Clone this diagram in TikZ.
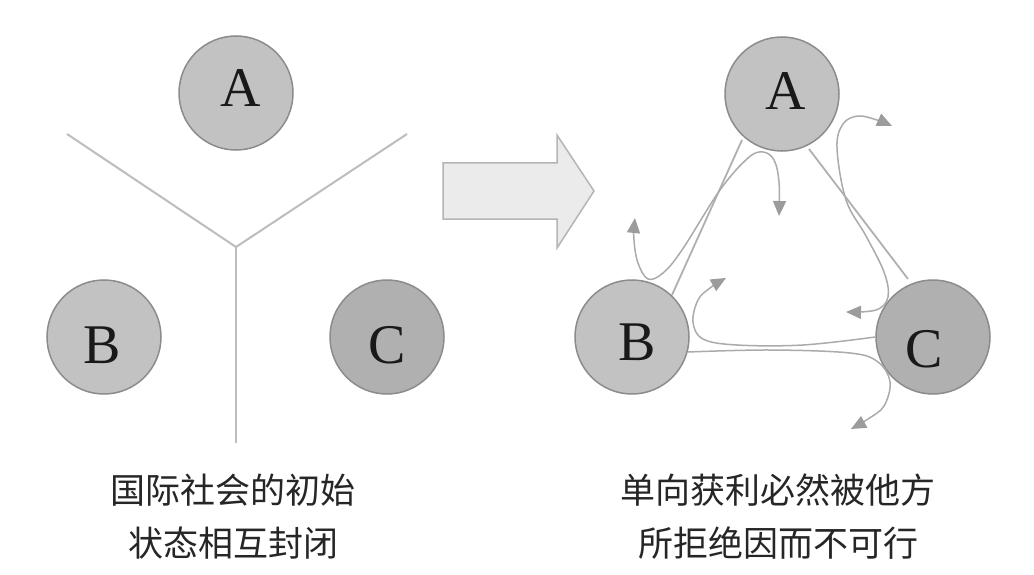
\documentclass[tikz,border=0pt]{standalone}
\usepackage{fontspec}
\setmainfont{Liberation Serif}
\newfontfamily\cjk{Noto Sans CJK SC}
\usetikzlibrary{arrows.meta}
\definecolor{ballfill}{HTML}{C2C2C2}
\definecolor{balldark}{HTML}{B0B0B0}
\definecolor{ballline}{HTML}{8C8C8C}
\definecolor{sepline}{HTML}{BDBDBD}
\definecolor{linkline}{HTML}{B0B0B0}
\definecolor{flowline}{HTML}{ABABAB}
\definecolor{tipfill}{HTML}{9C9C9C}
\definecolor{bigfill}{HTML}{EBEBEB}
\definecolor{bigline}{HTML}{B5B5B5}
\tikzset{
  ball/.style={circle, minimum size=114pt, inner sep=0pt, draw=ballline, line width=1.5pt, fill=ballfill},
  darkball/.style={ball, fill=balldark},
  letter/.style={font=\fontsize{56}{60}\selectfont, text=black!90, inner sep=0pt},
  caption/.style={font=\cjk\fontsize{35}{53}\selectfont, align=center, text=black!85, inner sep=0pt},
  separator/.style={draw=sepline, line width=2pt},
  link/.style={draw=linkline, line width=1.8pt},
  flow/.style={draw=flowline, line width=1.5pt},
  tip/.tip={Triangle[length=15pt, width=13pt, fill=tipfill, color=tipfill]},
  bigarrow/.style={fill=bigfill, draw=bigline, line width=1.5pt, line join=miter}
}
\begin{document}
\begin{tikzpicture}[x=1pt, y=-1pt]
\useasboundingbox (0,0) rectangle (1034,575);
\fill[white] (0,0) rectangle (1034,575);

% ---------- left panel ----------
\coordinate (ctr) at (236,247);
\coordinate (sepL) at (67,134);
\coordinate (sepR) at (407,134);
\coordinate (sepD) at (236,443);
\draw[separator] (sepL) -- (ctr) -- (sepR);
\draw[separator] (ctr) -- (sepD);

\node[ball] (lA) at (236,93) {};
\node[ball] (lB) at (104,337) {};
\node[darkball] (lC) at (387,337) {};
\node[letter] (lAt) at (241,88) {A};
\node[letter] (lBt) at (102,345) {B};
\node[letter] (lCt) at (387,345) {C};

% ---------- big arrow ----------
\draw[bigarrow] (443,163) -- (557,163) -- (557,135) -- (594,191) -- (557,248) -- (557,219) -- (443,219) -- cycle;

% ---------- right panel ----------
\node[ball] (rA) at (782,94) {};
\node[ball] (rB) at (632,337) {};
\node[darkball] (rC) at (933,337) {};

% straight links
\coordinate (abA) at (742,140);
\coordinate (abB) at (672,295);
\coordinate (acA) at (809,149);
\coordinate (acC) at (908,279);
\draw[link] (abA) -- (abB);
\draw[link] (acA) -- (acC);

% flow curves
\coordinate (f1s) at (635,218);
\coordinate (f1e) at (779,216);
\draw[flow, tip-tip] plot[smooth, tension=0.6] coordinates {(f1s) (634,240) (638,263) (648,279) (663,273) (682,250) (720,190) (748,158) (763,152) (774,160) (779,182) (f1e)};

\coordinate (f2s) at (892,126);
\coordinate (f2e) at (846,312);
\draw[flow, tip-tip] plot[smooth, tension=0.6] coordinates {(f2s) (877,120) (858,116) (843,124) (837,148) (846,200) (866,236) (884,272) (888,297) (876,310) (f2e)};

\coordinate (f3e) at (726,278);
\draw[flow, -tip] plot[smooth, tension=0.6] coordinates {(rC.west) (803,345) (737,345) (703,339) (693,322) (698,300) (710,288) (f3e)};

\coordinate (f4e) at (851,429);
\draw[flow, -tip] plot[smooth, tension=0.6] coordinates {(688,352) (770,350) (850,353) (878,362) (890,382) (884,406) (868,419) (f4e)};

\node[letter] (rAt) at (786,91) {A};
\node[letter] (rBt) at (637,342) {B};
\node[letter] (rCt) at (924,349) {C};

% ---------- captions ----------
\node[caption] (capL1) at (233,490) {国际社会的初始};
\node[caption] (capL2) at (233,543) {状态相互封闭};
\node[caption] (capR1) at (778,490) {单向获利必然被他方};
\node[caption] (capR2) at (778,543) {所拒绝因而不可行};
\end{tikzpicture}
\end{document}
